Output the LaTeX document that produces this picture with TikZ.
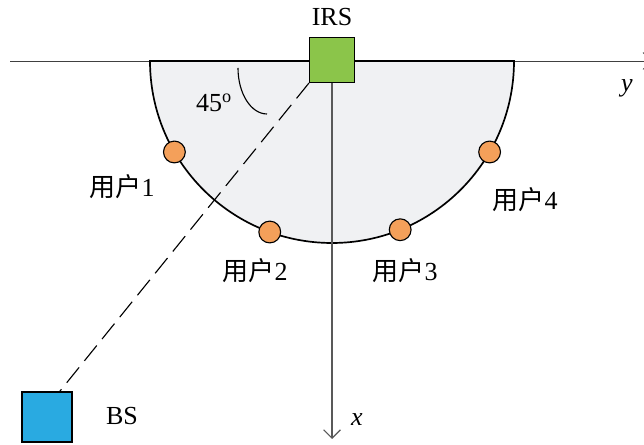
\documentclass[tikz,border=0pt]{standalone}
\usepackage{fontspec}
\setmainfont{Liberation Serif}
\newfontfamily\cjk{Noto Sans CJK SC}
\usetikzlibrary{arrows.meta}
\definecolor{irsgreen}{RGB}{139,197,74}
\definecolor{bsblue}{RGB}{41,170,225}
\definecolor{userorange}{RGB}{244,160,90}
\definecolor{halfgray}{RGB}{240,241,243}

\begin{document}
\begin{tikzpicture}[x=0.025cm, y=0.025cm, font=\fontsize{18.5}{21}\selectfont,
    box/.style={draw, line width=0.8pt, minimum size=32pt, inner sep=0pt},
    user/.style={circle, draw, line width=0.8pt, fill=userorange, minimum size=15.5pt, inner sep=0pt},
    axis/.style={line width=0.8pt, -{Straight Barb[length=6pt, width=12pt]}}]
    \useasboundingbox (0,0) rectangle (644,445);
    \coordinate (o) at (332,384);
    \coordinate (left) at (10,384);
    \coordinate (right) at (652,384);
    \coordinate (bot) at (332,6);
    % half disc under the IRS
    \fill[halfgray] (150,384) arc[start angle=180, end angle=360, radius=182] -- cycle;
    \draw[black!75, line width=0.6pt, -{Straight Barb[length=6pt, width=12pt]}] (left) -- (right);
    \draw[line width=1.2pt] (150,384) arc[start angle=180, end angle=360, radius=182] -- cycle;
    \node[box, fill=irsgreen] (irs) at (332,385) {};
    \node[box, fill=bsblue, minimum size=35.5pt] (bs) at (47,28) {};
    \draw[axis, black!65] (irs.south) -- (bot);
    \draw[line width=0.8pt, dash pattern=on 14pt off 6pt] (irs.south west) -- ([xshift=9pt]bs.north);
    \draw[line width=0.8pt] (238,377) arc[start angle=180, end angle=270, x radius=29, y radius=46];
    \node[user] (u1) at ([shift={(210:182)}]o) {};
    \node[user] (u2) at ([shift={(250:182)}]o) {};
    \node[user] (u3) at ([shift={(292:182)}]o) {};
    \node[user] (u4) at ([shift={(330:182)}]o) {};
    % labels
    \node (irslbl) at (332,428) {IRS};
    \node (bslbl) at (122,29) {BS};
    \node (ylbl) at (627,357) {\textit{y}};
    \node (xlbl) at (357,25) {\textit{x}};
    \node (ang) at (214,342) {45\textsuperscript{o}};
    \node (l1) at (122,258) {{\cjk 用户}1};
    \node (l2) at (255,174) {{\cjk 用户}2};
    \node (l3) at (405,174) {{\cjk 用户}3};
    \node (l4) at (525,245) {{\cjk 用户}4};
\end{tikzpicture}
\end{document}
